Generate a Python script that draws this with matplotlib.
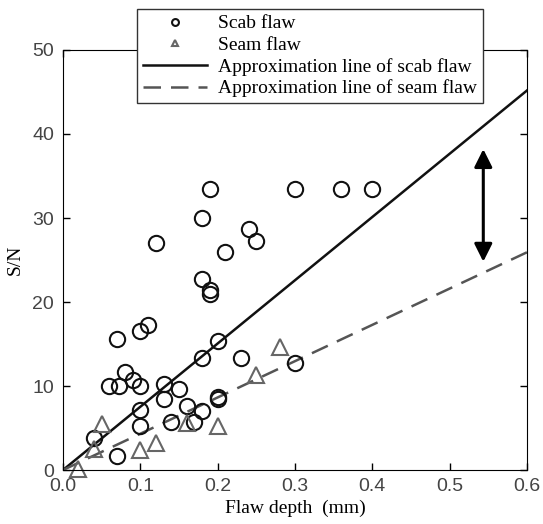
import numpy as np
import matplotlib.pyplot as plt

# scab flaw data (depth mm, S/N)
scab_x = [0.04, 0.07, 0.06, 0.072, 0.08, 0.09, 0.10, 0.07, 0.10, 0.11, 0.12, 0.10, 0.10,
          0.13, 0.13, 0.14, 0.15, 0.16, 0.17, 0.18, 0.18, 0.18, 0.18, 0.19, 0.19, 0.19,
          0.20, 0.20, 0.20, 0.21, 0.23, 0.24, 0.25, 0.30, 0.36, 0.40, 0.30]
scab_y = [3.8, 1.7, 10.0, 10.0, 11.7, 10.7, 10.0, 15.6, 16.6, 17.3, 27.0, 7.1, 5.3,
          10.3, 8.4, 5.7, 9.7, 7.6, 5.7, 7.0, 13.3, 22.7, 30.0, 33.4, 21.4, 20.9,
          15.3, 8.7, 8.4, 26.0, 13.3, 28.7, 27.3, 33.4, 33.4, 33.4, 12.7]

# seam flaw data
seam_x = [0.02, 0.04, 0.05, 0.10, 0.12, 0.16, 0.20, 0.25, 0.28]
seam_y = [0.1, 2.5, 5.5, 2.4, 3.2, 5.6, 5.3, 11.3, 14.6]

# approximation lines (slopes)
scab_slope = 75.3
seam_slope = 43.2

plt.rcParams['font.family'] = ['Liberation Serif']
fig = plt.figure(figsize=(5.43, 5.24), dpi=100)
ax = fig.add_axes([0.116, 0.103, 0.8545, 0.8016])

xl = np.array([0.0, 0.6])
l1, = ax.plot(xl, scab_slope * xl, color='#111111', lw=1.8, label='Approximation line of scab flaw')
l2, = ax.plot(xl, seam_slope * xl, color='#555555', lw=1.8, dashes=(7, 4), label='Approximation line of seam flaw')
s1, = ax.plot(scab_x, scab_y, 'o', ms=11, mfc='none', mec='#111111', mew=1.5, label='Scab flaw')
s2, = ax.plot(seam_x, seam_y, '^', ms=11, mfc='none', mec='#666666', mew=1.5, label='Seam flaw', clip_on=False)

ax.annotate('', xy=(0.5435, 38.2), xytext=(0.5435, 24.8),
            arrowprops=dict(arrowstyle='<|-|>,head_length=0.6,head_width=0.3', color='black',
                            lw=2.2, mutation_scale=18, shrinkA=0, shrinkB=0))

ax.set_xlim(0, 0.6)
ax.set_ylim(0, 50)
ax.set_xticks(np.arange(0, 0.61, 0.1))
ax.set_xticklabels(['0.0', '0.1', '0.2', '0.3', '0.4', '0.5', '0.6'])
ax.set_yticks(range(0, 51, 10))
ax.tick_params(direction='in', length=5, top=True, right=True, width=1, labelsize=14, labelcolor='#444444')
ax.tick_params(axis='y', pad=6.5)
ax.tick_params(axis='x', pad=6)
for lab in ax.get_xticklabels() + ax.get_yticklabels():
    lab.set_family('Liberation Sans')
ax.set_xlabel('Flaw depth  (mm)', fontsize=14, labelpad=3)
ax.set_ylabel('S/N', fontsize=14, labelpad=6)

leg = ax.legend(handles=[s1, s2, l1, l2], loc='upper center', bbox_to_anchor=(0.571, 0.983),
                bbox_transform=fig.transFigure, fontsize=14, fancybox=False, framealpha=1,
                edgecolor='#333333', markerscale=0.45, handlelength=3.3, borderpad=0.3,
                labelspacing=0.2, handletextpad=0.55, borderaxespad=0)
leg.get_frame().set_linewidth(1)

fig.savefig('out.png', dpi=100)
